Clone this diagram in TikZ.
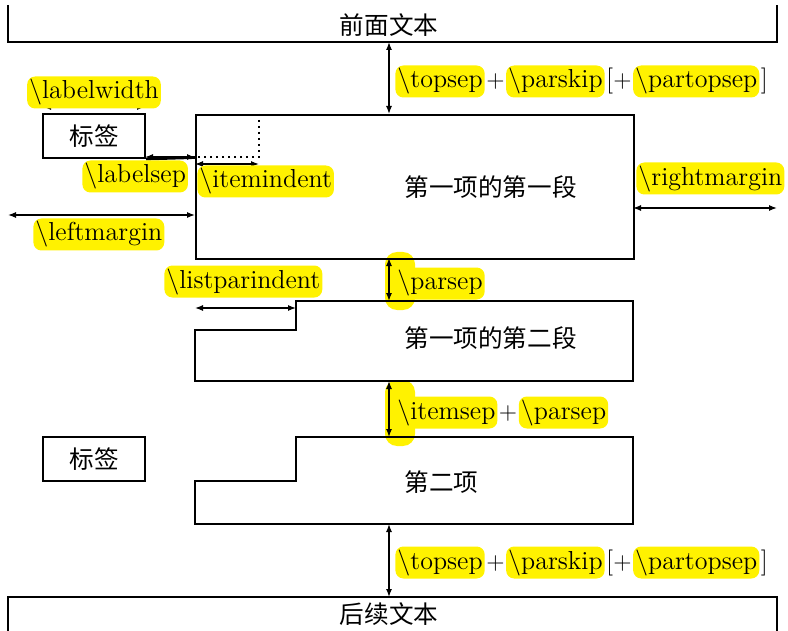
\documentclass[tikz,border=0pt]{standalone}
\usepackage{fontspec}
\newfontfamily\cjk{Noto Sans CJK SC}
\usetikzlibrary{arrows.meta}
\begin{document}
\begin{tikzpicture}[x=0.5pt,y=-0.5pt,
  font=\fontsize{13}{15}\selectfont,
  box/.style={line width=1pt},
  thickbox/.style={line width=1.4pt},
  dim/.style={{Latex[length=4pt,width=3pt]}-{Latex[length=4pt,width=3pt]}, line width=0.65pt},
  hl/.style={fill=yellow, rounded corners=4pt, inner xsep=1pt, inner ysep=1.5pt, text height=9.75pt, text depth=3.25pt},
  plain/.style={inner xsep=0.4pt, inner ysep=0pt},
  cjkt/.style={font=\cjk\fontsize{12.3}{14}\selectfont, inner sep=0pt},
  labbox/.style={draw, box, minimum width=51pt, minimum height=22pt, inner sep=0pt, cjkt}
]
\useasboundingbox (0,0) rectangle (788,631);
% highlight blobs beside arrows
\fill[yellow, rounded corners=6pt] (385,252) rectangle (415,310);
\fill[yellow, rounded corners=6pt] (385,380) rectangle (415,446);

% preceding text
\draw[box] (8,5) -- (8,42) -- (777,42) -- (777,5);
\node[cjkt] (prev) at (389,25) {前面文本};
\coordinate (prevA) at (389,42);

% item 1 paragraph 1
\node[draw, box, minimum width=219pt, minimum height=72pt, inner sep=0pt, anchor=north west] (item1) at (195,114) {};
\node[cjkt, anchor=west] (item1t) at (404,187) {第一项的第一段};
\coordinate (item1A) at (389,114);
\coordinate (item1B) at (389,258);

% label 1
\node[labbox] (lab1) at (94,136) {标签};
\draw[dotted, line width=1pt] (259,114) coordinate (dotA) -- (259,157) -- (195,157);
\draw[line width=1.4pt] (lab1.south east) -- (195,157.5) coordinate (lsB);
\draw[dim] (145,157) coordinate (lsA) -- (195,157);
\draw[dim] (43,107) coordinate (lwA) -- (145,107) coordinate (lwB);
\draw[dim] (195,164) coordinate (iiA) -- (259,164) coordinate (iiB);
\draw[dim] (8,215) coordinate (lmA) -- (195,215) coordinate (lmB);
\draw[dim] (633,208) coordinate (rmA) -- (777,208) coordinate (rmB);

% item 1 paragraph 2
\draw[thickbox] (296,301) -- (633,301) -- (633,381) -- (195,381) -- (195,330) -- (296,330) -- cycle;
\node[cjkt, anchor=west] (item1p2) at (404,338) {第一项的第二段};
\draw[dim] (195,308) coordinate (lpA) -- (296,308) coordinate (lpB);
\coordinate (p2A) at (389,301);
\coordinate (p2B) at (389,381);

% item 2
\draw[thickbox] (296,437) -- (633,437) -- (633,524) -- (195,524) -- (195,481) -- (296,481) -- cycle;
\node[cjkt, anchor=west] (item2t) at (404,482) {第二项};
\node[labbox, line width=1.2pt] (lab2) at (94,459) {标签};
\coordinate (i2A) at (389,437);
\coordinate (i2B) at (389,524);

% following text
\draw[box] (8,631) -- (8,597) -- (777,597) -- (777,631);
\node[cjkt] (next) at (389,614) {后续文本};
\coordinate (nextA) at (389,597);

% vertical dimension arrows
\draw[dim] (prevA) -- (item1A);
\draw[dim] (item1B) -- (p2A);
\draw[dim] (p2B) -- (i2A);
\draw[dim] (i2B) -- (nextA);

% labels
\node[hl, anchor=base west] (ts1) at (395,88) {\textbackslash topsep};
\node[plain, anchor=base west] (tp1) at (ts1.base east) {$+$};
\node[hl, anchor=base west] (ps1) at (tp1.base east) {\textbackslash parskip};
\node[plain, anchor=base west] (br1) at (ps1.base east) {[$+$};
\node[hl, anchor=base west] (pt1) at (br1.base east) {\textbackslash partopsep};
\node[plain, anchor=base west] (bk1) at (pt1.base east) {]};

\node[hl, anchor=base west] (ts2) at (395,569) {\textbackslash topsep};
\node[plain, anchor=base west] (tp2) at (ts2.base east) {$+$};
\node[hl, anchor=base west] (ps2) at (tp2.base east) {\textbackslash parskip};
\node[plain, anchor=base west] (br2) at (ps2.base east) {[$+$};
\node[hl, anchor=base west] (pt2) at (br2.base east) {\textbackslash partopsep};
\node[plain, anchor=base west] (bk2) at (pt2.base east) {]};

\node[hl, anchor=base west] (is) at (395,419) {\textbackslash itemsep};
\node[plain, anchor=base west] (isp) at (is.base east) {$+$};
\node[hl, anchor=base west] (ps3) at (isp.base east) {\textbackslash parsep};

\node[hl, anchor=base west] (psep) at (395,290) {\textbackslash parsep};
\node[hl, anchor=base] (lw) at (94,99) {\textbackslash labelwidth};
\node[hl, anchor=base west] (lsep) at (82,183) {\textbackslash labelsep};
\node[hl, anchor=base west] (iind) at (197,188) {\textbackslash itemindent};
\node[hl, anchor=base west] (lmar) at (33,241) {\textbackslash leftmargin};
\node[hl, anchor=base west] (lpi) at (164,288) {\textbackslash listparindent};
\node[hl, anchor=base west] (rmar) at (636,185) {\textbackslash rightmargin};
\end{tikzpicture}
\end{document}
